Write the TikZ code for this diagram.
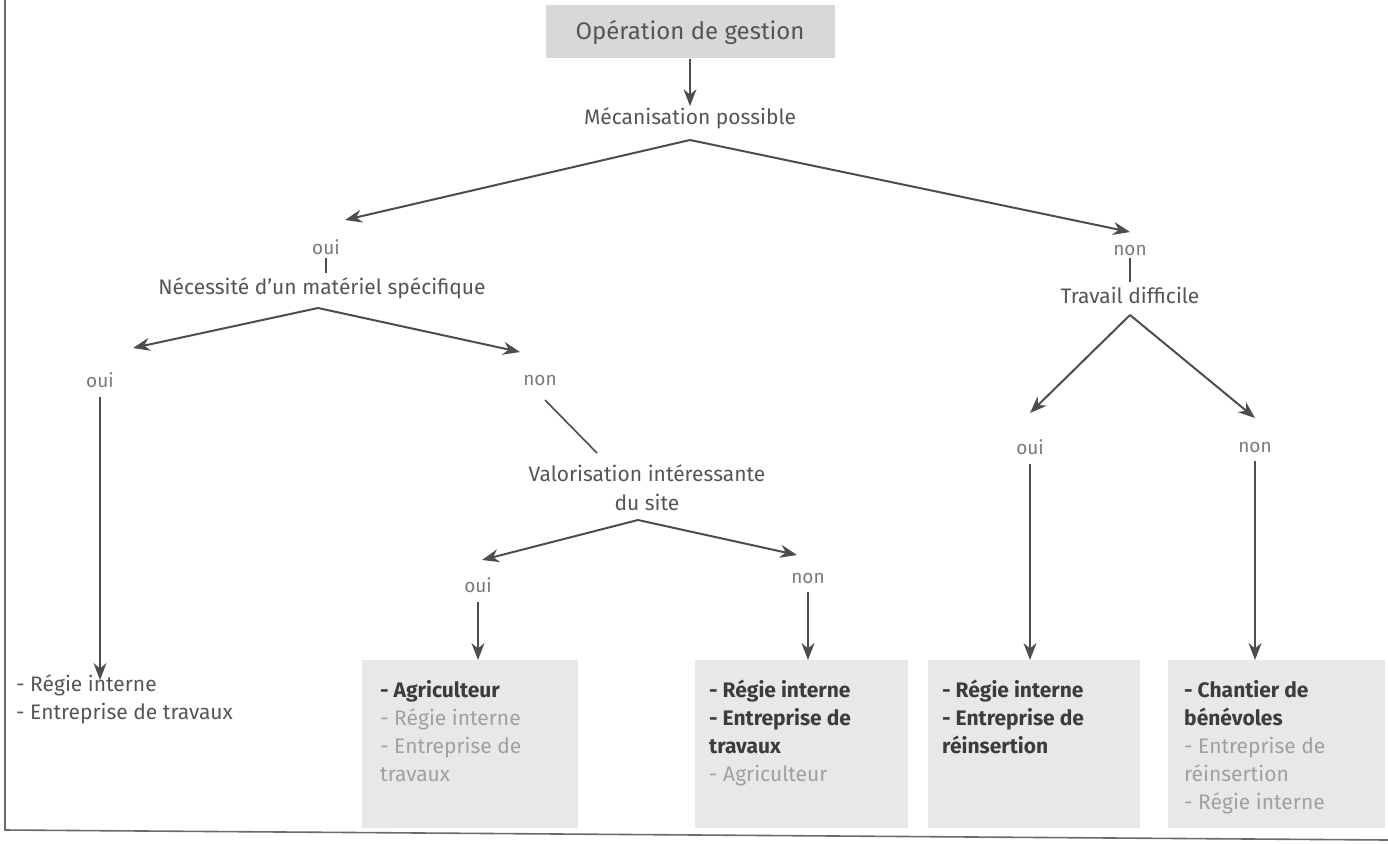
\documentclass[tikz,border=0pt]{standalone}
\usepackage{fontspec}
\setmainfont{Fira Sans}
\usetikzlibrary{arrows.meta}
\definecolor{ink}{HTML}{4D4D4D}
\definecolor{txt}{HTML}{555555}
\definecolor{yn}{HTML}{7A7A7A}
\definecolor{dark}{HTML}{3C3C3C}
\definecolor{light}{HTML}{A0A0A0}
\definecolor{boxfill}{HTML}{E8E8E8}
\definecolor{topfill}{HTML}{D8D8D8}
\definecolor{frame}{HTML}{6A6A6A}
\newcommand{\dk}[1]{{\color{dark}\bfseries #1}}
\newcommand{\lt}[1]{{\color{light} #1}}
\tikzset{
  lbl/.style={text=txt, font=\fontsize{21}{29}\selectfont, inner sep=1pt, align=center},
  ynlbl/.style={text=yn, font=\fontsize{19}{20}\selectfont, inner sep=1pt},
  arr/.style={draw=ink, line width=2pt, -{Stealth[length=17pt,width=13pt]}},
  plain/.style={draw=ink, line width=1.6pt},
  tick/.style={draw=ink, line width=1.4pt},
  topbox/.style={fill=topfill, minimum width=289pt, minimum height=53pt, text=txt,
     font=\fontsize{24}{26}\selectfont},
  resbox/.style={fill=boxfill, minimum height=168pt, anchor=north west, inner sep=0pt},
  restxt/.style={anchor=north west, align=left, inner sep=0pt,
     font=\fontsize{21}{28}\selectfont, text=dark}
}
\begin{document}
\begin{tikzpicture}[x=1pt,y=-1pt]
\useasboundingbox (0,0) rectangle (1388,843);
% frame
\draw[frame, line width=1.6pt] (5,0) -- (5,830) -- (1388,840);

% top
\node[topbox] (op) at (690,32) {Opération de gestion};
\node[lbl] (meca) at (690,118) {Mécanisation possible};
\draw[arr] (op.south) -- (meca.north);
\coordinate (m0) at (690,140);
\coordinate (m1) at (345,220);
\coordinate (m2) at (1130,232);
\draw[arr] (m0) -- (m1);
\draw[arr] (m0) -- (m2);

% left branch
\node[ynlbl] (oui1) at (326,247) {oui};
\node[lbl] (nec) at (322,288) {Nécessité d'un matériel spécifique};
\draw[tick] ([yshift=-2pt]oui1.south) -- ([yshift=3pt]oui1.south |- nec.north);
\coordinate (n0) at (318,308);
\coordinate (n1) at (133,348);
\coordinate (n2) at (520,352);
\draw[arr] (n0) -- (n1);
\draw[arr] (n0) -- (n2);

\node[ynlbl] (oui2) at (100,380) {oui};
\node[restxt, text=txt] (left) at (16,674) {- Régie interne\\- Entreprise de travaux};
\coordinate (l1) at (100,680);
\draw[arr] ([yshift=-8pt]oui2.south) -- (l1);

\node[ynlbl] (non2) at (540,380) {non};
\node[lbl] (valo) at (647,488) {Valorisation intéressante\\du site};
\coordinate (s0) at (545,400);
\coordinate (s1) at (597,453);
\draw[plain] (s0) -- (s1);
\coordinate (v0) at (638,520);
\coordinate (v1) at (482,560);
\coordinate (v2) at (797,555);
\draw[arr] (v0) -- (v1);
\draw[arr] (v0) -- (v2);

\node[ynlbl] (oui3) at (478,585) {oui};
\node[ynlbl] (non3) at (808,578) {non};

% right branch
\node[ynlbl] (non1) at (1130,250) {non};
\node[lbl] (trav) at (1130,295) {Travail difficile};
\draw[tick] ([yshift=-2pt]non1.south) -- ([yshift=3pt]non1.south |- trav.north);
\coordinate (t0) at (1130,315);
\coordinate (t1) at (1030,413);
\coordinate (t2) at (1255,418);
\draw[arr] (t0) -- (t1);
\draw[arr] (t0) -- (t2);
\node[ynlbl] (oui4) at (1030,447) {oui};
\node[ynlbl] (non4) at (1255,447) {non};

% result boxes
\node[resbox, minimum width=216pt] (b1) at (362,660) {};
\node[resbox, minimum width=213pt] (b2) at (695,660) {};
\node[resbox, minimum width=212pt] (b3) at (928,660) {};
\node[resbox, minimum width=217pt] (b4) at (1168,660) {};

\node[restxt] (t1txt) at ([xshift=18pt,yshift=-20pt]b1.north west)
  {\dk{- Agriculteur}\\\lt{- Régie interne}\\\lt{- Entreprise de}\\\lt{travaux}};
\node[restxt] (t2txt) at ([xshift=14pt,yshift=-20pt]b2.north west)
  {\dk{- Régie interne}\\\dk{- Entreprise de}\\\dk{travaux}\\\lt{- Agriculteur}};
\node[restxt] (t3txt) at ([xshift=14pt,yshift=-20pt]b3.north west)
  {\dk{- Régie interne}\\\dk{- Entreprise de}\\\dk{réinsertion}};
\node[restxt] (t4txt) at ([xshift=16pt,yshift=-20pt]b4.north west)
  {\dk{- Chantier de}\\\dk{bénévoles}\\\lt{- Entreprise de}\\\lt{réinsertion}\\\lt{- Régie interne}};

\draw[arr] ([yshift=-8pt]oui3.south) -- (oui3.south |- b1.north);
\draw[arr] ([yshift=-8pt]non3.south) -- (non3.south |- b2.north);
\draw[arr] ([yshift=-8pt]oui4.south) -- (oui4.south |- b3.north);
\draw[arr] ([yshift=-8pt]non4.south) -- (non4.south |- b4.north);
\end{tikzpicture}
\end{document}
